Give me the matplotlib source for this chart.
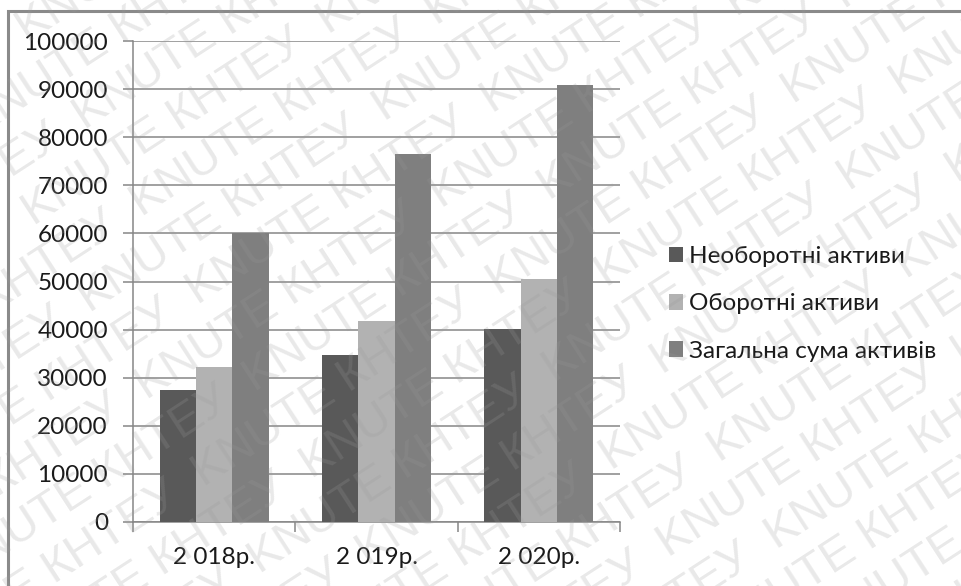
import numpy as np
import matplotlib
matplotlib.use("Agg")
import matplotlib.pyplot as plt
from matplotlib.patches import Rectangle

categories = ["2 018р.", "2 019р.", "2 020р."]
series_names = ["Необоротні активи", "Оборотні активи", "Загальна сума активів"]
non_current = [27400, 34800, 40100]
current = [32300, 41700, 50600]
total = [60000, 76500, 90900]
series_values = [non_current, current, total]
series_colors = ["#595959", "#b2b2b2", "#7f7f7f"]
y_ticks = list(range(0, 100001, 10000))

plt.rcParams["font.family"] = ["Lato", "DejaVu Sans"]

fig = plt.figure(figsize=(9.61, 5.86), dpi=100)
fig.patch.set_facecolor("white")

ax = fig.add_axes([133 / 961, 1 - 522 / 586, (620 - 133) / 961, (522 - 41) / 586])
ax.set_facecolor("none")

x = np.arange(len(categories))
bar_w = 0.224
offsets = [-bar_w, 0.0, bar_w]
handles = []
for vals, name, col, off in zip(series_values, series_names, series_colors, offsets):
    h = ax.bar(x + off, vals, width=bar_w, color=col, label=name, zorder=3)
    handles.append(h)

ax.set_xlim(-0.5, len(categories) - 0.5)
ax.set_ylim(0, 100000)
ax.set_yticks(y_ticks)
ax.set_yticklabels([str(v) for v in y_ticks])
ax.set_xticks(x)
ax.set_xticklabels(categories)
ax.set_xticks(np.arange(-0.5, len(categories), 1.0), minor=True)

grid_col = "#868686"
ax.yaxis.grid(True, color=grid_col, linewidth=1.1, zorder=1)
ax.set_axisbelow(True)
for s in ["top", "right"]:
    ax.spines[s].set_visible(False)
for s in ["left", "bottom"]:
    ax.spines[s].set_color(grid_col)
    ax.spines[s].set_linewidth(1.1)

ax.tick_params(axis="y", direction="out", length=7, width=1.1, color=grid_col,
               labelsize=17.5, pad=11, labelcolor="#1a1a1a")
ax.tick_params(axis="x", which="major", length=0, labelsize=17.5, pad=18,
               labelcolor="#1a1a1a")
ax.tick_params(axis="x", which="minor", direction="out", length=7, width=1.1,
               color=grid_col)

leg = fig.legend(handles=handles, labels=series_names, loc="center left",
                 bbox_to_anchor=(659 / 961, 1 - 304 / 586), frameon=False,
                 fontsize=17.5, handlelength=0.6, handleheight=0.6,
                 handletextpad=0.25, labelspacing=1.08, borderaxespad=0)
for t in leg.get_texts():
    t.set_color("#1a1a1a")

# outer chart frame
frame = Rectangle((8 / 961, -0.2), 1.2, 1.2 - 11 / 586, transform=fig.transFigure,
                  fill=False, edgecolor="#8a8a8a", linewidth=2.2, clip_on=False,
                  zorder=0)
fig.patches.append(frame)

# diagonal watermark rows, clipped to a full-figure overlay axes
wm = fig.add_axes([0, 0, 1, 1], zorder=10)
wm.set_axis_off()
wm.set_xlim(0, 961)
wm.set_ylim(0, 586)
angle = 33.0
theta = np.deg2rad(angle)
along = np.array([np.cos(theta), np.sin(theta)])
perp = np.array([-np.sin(theta), np.cos(theta)])
row_text = "  ".join(["KNUTE КНТЕУ"] * 6)
center = np.array([961 / 2, 586 / 2])
spacing = 52
for i in range(-14, 15):
    p = center + perp * spacing * i + along * (i % 2) * 95
    t = wm.text(p[0], p[1], row_text, rotation=angle, rotation_mode="anchor",
                ha="center", va="center", fontsize=34, color="#9a9a9a",
                alpha=0.22, family="Liberation Sans", clip_on=True)

fig.savefig("out.png", dpi=100, facecolor="white")
